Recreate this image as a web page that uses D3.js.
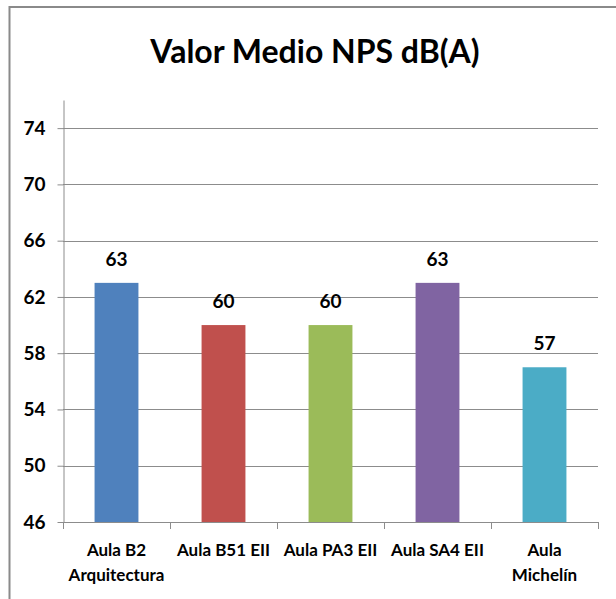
<!DOCTYPE html>
<html>
<head>
<meta charset="utf-8">
<script src="https://cdn.jsdelivr.net/npm/d3@7/dist/d3.min.js"></script>
<style>
  html, body { margin: 0; padding: 0; background: #fff; }
  svg { display: block; }
  text { font-family: Lato, "Open Sans", sans-serif; fill: #000; }
</style>
</head>
<body>
<svg id="chart" width="616" height="599"></svg>
<script>
// Chart data
const title = "Valor Medio NPS dB(A)";
const categories = ["Aula B2 Arquitectura", "Aula B51 EII", "Aula PA3 EII", "Aula SA4 EII", "Aula Michelín"];
const categoryLines = [["Aula B2", "Arquitectura"], ["Aula B51 EII"], ["Aula PA3 EII"], ["Aula SA4 EII"], ["Aula", "Michelín"]];
const values = [63, 60, 60, 63, 57];
const colors = ["#4F81BD", "#C0504D", "#9BBB59", "#8064A2", "#4BACC6"];
const yTicks = [46, 50, 54, 58, 62, 66, 70, 74];
const yDomain = [46, 76];

const svg = d3.select("#chart");

// Outer chart-area frame (top and left edges visible)
svg.append("path")
  .attr("d", "M9.5,599 L9.5,7 L616,7")
  .attr("fill", "none")
  .attr("stroke", "#8a8a8a")
  .attr("stroke-width", 2);

const plot = { left: 63, right: 598, top: 100, bottom: 522 };

const y = d3.scaleLinear().domain(yDomain).range([plot.bottom, plot.top]);
const xSlots = d3.scaleBand().domain(categories).range([plot.left, plot.right]).padding(0);
const x = d3.scaleBand().domain(categories).range([plot.left, plot.right])
  .paddingInner(0.59).paddingOuter(0.295);

// Horizontal gridlines
svg.append("g").selectAll("line").data(yTicks.filter(t => t !== yDomain[0])).join("line")
  .attr("x1", plot.left).attr("x2", plot.right)
  .attr("y1", d => Math.round(y(d)) + 0.5).attr("y2", d => Math.round(y(d)) + 0.5)
  .attr("stroke", "#8c8c8c").attr("stroke-width", 1);

// Y axis
const yAxis = d3.axisLeft(y).tickValues(yTicks).tickSize(6).tickPadding(12).tickSizeOuter(0);
const gy = svg.append("g").attr("transform", `translate(${plot.left + 0.5},0)`).call(yAxis);
gy.select(".domain").attr("stroke", "#8c8c8c");
gy.selectAll(".tick line").attr("stroke", "#8c8c8c");
gy.selectAll(".tick text")
  .attr("font-family", "Lato, sans-serif")
  .attr("font-size", 19).attr("font-weight", "bold").attr("fill", "#000");

// Bars
svg.append("g").selectAll("rect").data(values).join("rect")
  .attr("x", (d, i) => x(categories[i]))
  .attr("y", d => y(d))
  .attr("width", x.bandwidth())
  .attr("height", d => y(yDomain[0]) - y(d))
  .attr("fill", (d, i) => colors[i]);

// Value labels above bars
svg.append("g").selectAll("text").data(values).join("text")
  .attr("x", (d, i) => x(categories[i]) + x.bandwidth() / 2)
  .attr("y", d => y(d) - 17)
  .attr("text-anchor", "middle")
  .attr("font-size", 19).attr("font-weight", "bold")
  .text(d => d);

// X axis line with slot-boundary ticks
const gx = svg.append("g");
gx.append("line")
  .attr("x1", plot.left).attr("x2", plot.right)
  .attr("y1", plot.bottom + 0.5).attr("y2", plot.bottom + 0.5)
  .attr("stroke", "#8c8c8c");
const bounds = categories.map(c => xSlots(c)).concat([plot.right]);
gx.selectAll("line.tick").data(bounds).join("line").attr("class", "tick")
  .attr("x1", d => Math.round(d) + 0.5).attr("x2", d => Math.round(d) + 0.5)
  .attr("y1", plot.bottom).attr("y2", plot.bottom + 7)
  .attr("stroke", "#8c8c8c");

// Category labels
const lab = svg.append("g").selectAll("text").data(categoryLines).join("text")
  .attr("x", (d, i) => xSlots(categories[i]) + xSlots.bandwidth() / 2)
  .attr("y", 556)
  .attr("text-anchor", "middle")
  .attr("font-size", 17).attr("font-weight", "bold");
lab.selectAll("tspan").data(d => d).join("tspan")
  .attr("x", function() { return d3.select(this.parentNode).attr("x"); })
  .attr("dy", (d, j) => j === 0 ? 0 : 25)
  .text(d => d);

// Title
svg.append("text")
  .attr("x", 315).attr("y", 63)
  .attr("text-anchor", "middle")
  .attr("font-size", 32).attr("font-weight", "bold")
  .text(title);
</script>
</body>
</html>
